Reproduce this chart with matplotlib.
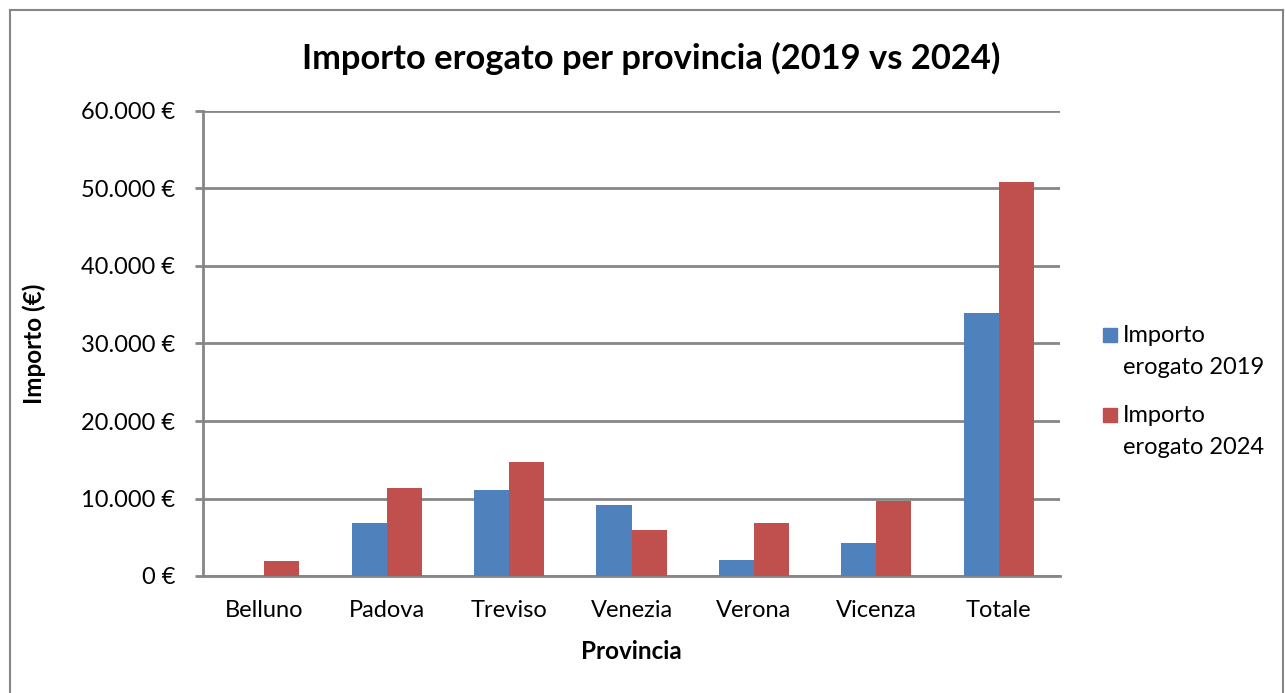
import matplotlib
matplotlib.use("Agg")
from matplotlib import pyplot as plt
from matplotlib.ticker import FuncFormatter
from matplotlib.lines import Line2D
from matplotlib.patches import Rectangle
import numpy as np

plt.rcParams['font.family'] = ['Lato', 'DejaVu Sans']

province = ["Belluno", "Padova", "Treviso", "Venezia", "Verona", "Vicenza", "Totale"]
importo_2019 = [0, 6900, 11100, 9150, 2070, 4270, 33900]
importo_2024 = [1900, 11300, 14700, 5900, 6860, 9700, 50900]
serie = ["Importo\nerogato 2019", "Importo\nerogato 2024"]

blue = "#4F81BD"
red = "#C0504D"
grid_col = "#868686"
W, H = 1285, 693

fig = plt.figure(figsize=(12.85, 6.93), dpi=100)
ax = fig.add_axes([203/W, 1 - 576/H, (1060-203)/W, (576-111)/H])

x = np.arange(len(province))
w = 0.286
ax.bar(x - w/2, importo_2019, w, color=blue, zorder=3)
ax.bar(x + w/2, importo_2024, w, color=red, zorder=3)

ax.set_xlim(-0.5, len(province) - 0.5)
ax.set_ylim(0, 60000)
ax.set_yticks(np.arange(0, 60001, 10000))
ax.yaxis.set_major_formatter(FuncFormatter(
    lambda v, p: "0 €" if v == 0 else f"{int(v):,} €".replace(",", ".")))
ax.set_xticks(x)
ax.set_xticklabels(province)

ax.grid(axis="y", color=grid_col, linewidth=2, zorder=0)
for s in ["top", "right"]:
    ax.spines[s].set_visible(False)
ax.spines["left"].set_color(grid_col)
ax.spines["left"].set_linewidth(2)
ax.spines["bottom"].set_color(grid_col)
ax.spines["bottom"].set_linewidth(2)
ax.tick_params(axis="y", length=6, width=2, color=grid_col, labelsize=17, pad=14)
ax.tick_params(axis="x", length=0, labelsize=17, pad=17)

ax.set_xlabel("Provincia", fontsize=17.5, fontweight="bold", labelpad=14)
ax.set_ylabel("Importo (€)", fontsize=17.5, fontweight="bold", labelpad=25)
fig.text(651/W, 1 - 58/H, "Importo erogato per provincia (2019 vs 2024)",
         fontsize=24.8, fontweight="bold", ha="center", va="center")

# legend drawn by hand so the square sits beside the first text line
for i, (lab, col) in enumerate(zip(serie, [blue, red])):
    y0 = 335 + i * 80
    fig.add_artist(Rectangle((1103/W, 1 - (y0 + 7)/H), 14/W, 14/H,
                             transform=fig.transFigure, color=col))
    fig.text(1123/W, 1 - (y0 - 10)/H, lab, fontsize=17, ha="left", va="top",
             linespacing=1.65)

# outer chart border
fig.add_artist(Line2D([10/W, 10/W], [0, 1 - 10/H], color=grid_col, lw=1.5))
fig.add_artist(Line2D([10/W, 1283/W], [1 - 10/H, 1 - 10/H], color=grid_col, lw=1.5))
fig.add_artist(Line2D([1283/W, 1283/W], [0, 1 - 10/H], color=grid_col, lw=1.5))

fig.savefig("out.png", dpi=100)
